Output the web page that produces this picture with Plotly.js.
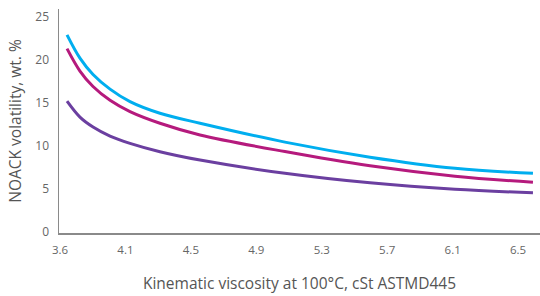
<!DOCTYPE html>
<html>
<head>
<meta charset="utf-8">
<script src="https://cdn.plot.ly/plotly-3.0.1.min.js"></script>
<style>html,body{margin:0;padding:0;background:#fff;}#chart{width:540px;height:296px;}</style>
</head>
<body>
<div id="chart"></div>
<script>
// Kinematic viscosity positions (data x) and NOACK values
const viscosity = [3.743, 3.822, 3.902, 4.006, 4.128, 4.311, 4.556, 5.075, 5.595, 6.114, 6.591];
const cyanSeries = [22.9, 20.2, 18.3, 16.6, 15.15, 13.8, 12.64, 10.45, 8.7, 7.41, 6.83];
const magentaSeries = [21.3, 18.7, 16.9, 15.3, 13.99, 12.64, 11.28, 9.35, 7.7, 6.5, 5.78];
const purpleSeries = [15.2, 13.35, 12.2, 11.15, 10.31, 9.34, 8.37, 6.83, 5.72, 4.97, 4.57];
const xTickVals = [3.7, 4.1, 4.5, 4.9, 5.3, 5.7, 6.1, 6.5];
const xTickText = ["3.6", "4.1", "4.5", "4.9", "5.3", "5.7", "6.1", "6.5"];
const yTickVals = [0, 5, 10, 15, 20, 25];

function line(y, color) {
  return {x: viscosity, y: y, mode: 'lines', type: 'scatter',
    line: {color: color, width: 3, shape: 'spline', smoothing: 1.0},
    hoverinfo: 'skip', showlegend: false};
}
const data = [
  line(purpleSeries, '#6B3FA0'),
  line(magentaSeries, '#B51A7D'),
  line(cyanSeries, '#00AEEF')
];
const layout = {
  width: 540, height: 296,
  margin: {l: 59, r: 0, t: 9, b: 63, pad: 0},
  paper_bgcolor: '#fff', plot_bgcolor: '#fff',
  font: {family: 'Open Sans, sans-serif', color: '#666'},
  xaxis: {
    range: [3.694, 6.634], tickvals: xTickVals, ticktext: xTickText,
    showgrid: false, zeroline: false, showline: true, linecolor: '#8a8a8a', linewidth: 1.5,
    ticks: '', tickfont: {size: 11.5, color: '#666'}, ticklabelstandoff: 6,
    title: {text: 'Kinematic viscosity at 100°C, cSt ASTMD445', font: {size: 15.5, color: '#555'}, standoff: 22}
  },
  yaxis: {
    range: [-0.1, 25.9], tickvals: yTickVals,
    showgrid: false, zeroline: false, showline: true, linecolor: '#8a8a8a', linewidth: 1.5,
    ticks: '', tickfont: {size: 12, color: '#666'}, ticklabelstandoff: 6,
    title: {text: 'NOACK volatility, wt. %', font: {size: 15.5, color: '#555'}, standoff: 10}
  }
};
Plotly.newPlot('chart', data, layout, {staticPlot: true, displayModeBar: false});
</script>
</body>
</html>
